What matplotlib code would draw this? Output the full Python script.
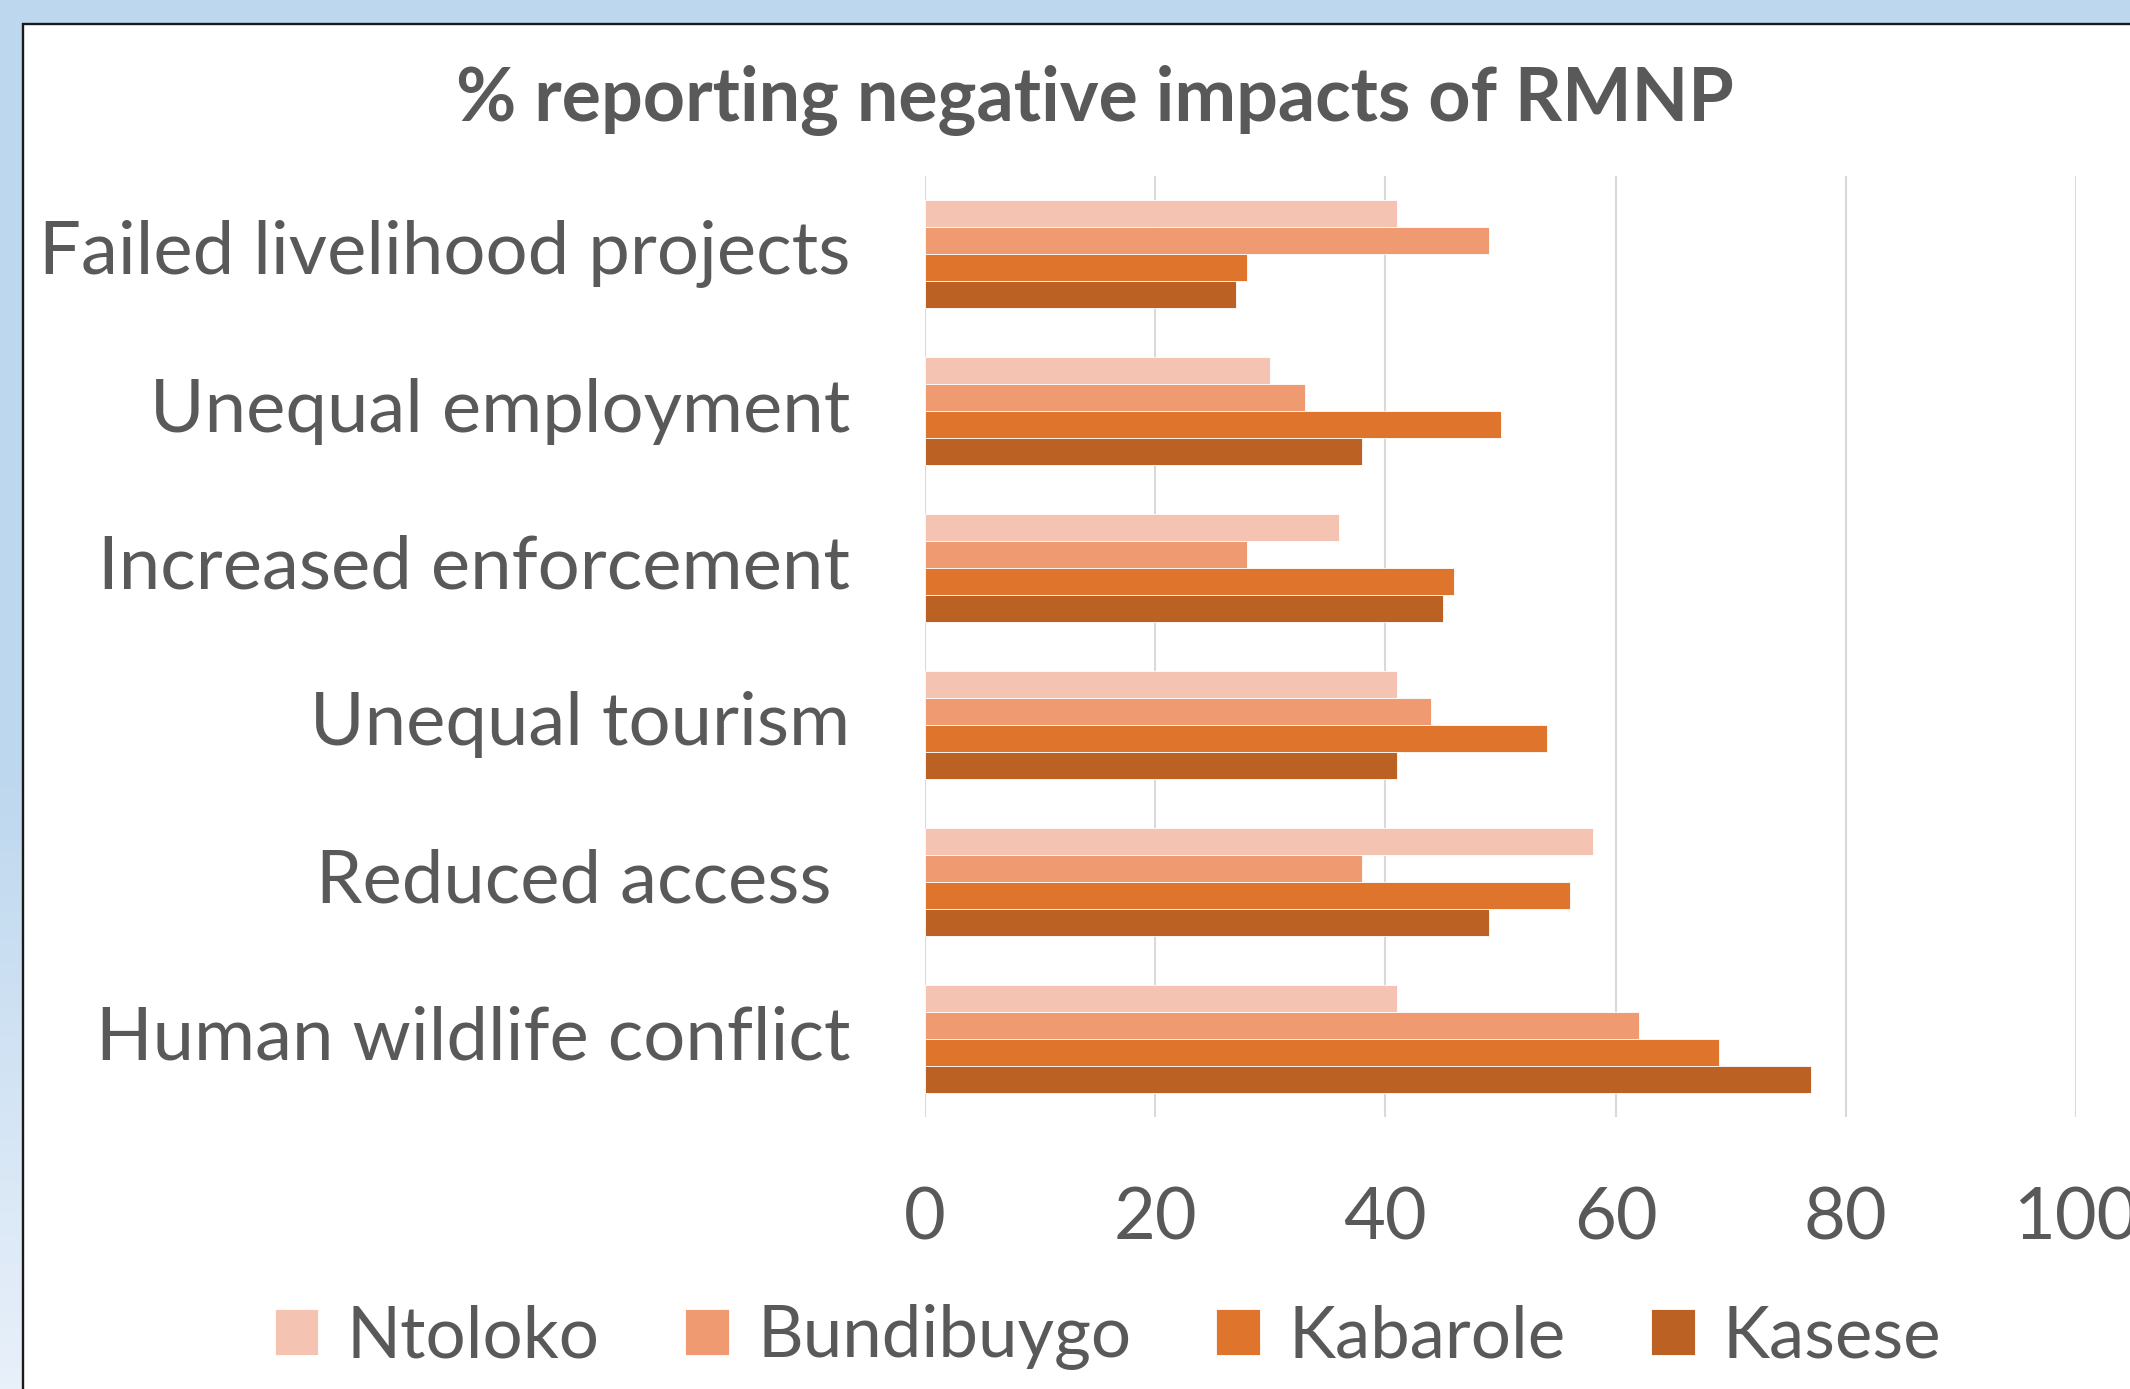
import numpy as np
import matplotlib
matplotlib.use("Agg")
import matplotlib.pyplot as plt
from matplotlib.patches import Rectangle

## data #######################################################################
categories = ["Failed livelihood projects", "Unequal employment",
              "Increased enforcement", "Unequal tourism",
              "Reduced access ", "Human wildlife conflict"]
series_names = ["Ntoloko", "Bundibuygo", "Kabarole", "Kasese"]
ntoloko = [41, 30, 36, 41, 58, 41]
bundibuygo = [49, 33, 28, 44, 38, 62]
kabarole = [28, 50, 46, 54, 56, 69]
kasese = [27, 38, 45, 41, 49, 77]
x_ticks = [0, 20, 40, 60, 80, 100]
title = "% reporting negative impacts of RMNP"

colours = ["#F5C3B2", "#F09A72", "#DF752D", "#BC6124"]
text_col = "#595959"

plt.rcParams['font.family'] = ['Lato', 'DejaVu Sans']

W, H = 2130, 1389
fig = plt.figure(figsize=(W / 100, H / 100), dpi=100)

# blue gradient behind the white chart panel
bg = fig.add_axes([0, 0, 1, 1])
rows = np.linspace(0, 1, 300)
top = np.array([0xBD, 0xD7, 0xEE]) / 255
bot = np.array([0xE8, 0xF0, 0xFA]) / 255
t = np.clip((rows - 0.55) / 0.45, 0, 1)[:, None]
grad = (top * (1 - t) + bot * t)[:, None, :]
bg.imshow(grad, aspect='auto', extent=[0, 1, 0, 1], origin='upper')
bg.set_xlim(0, 1)
bg.set_ylim(0, 1)
bg.axis('off')
bg.add_patch(Rectangle((23 / W, -0.05), 1.0, 1 - 24 / H + 0.05,
                       facecolor='white', edgecolor='#1a1a1a', lw=1.7,
                       clip_on=False))

ax = fig.add_axes([925 / W, 1 - 1117 / H, (2076 - 925) / W, (1117 - 176) / H])
ax.set_facecolor('none')

all_series = [ntoloko, bundibuygo, kabarole, kasese]
y = np.arange(len(categories))
h = 0.172
for i, vals in enumerate(all_series):
	ax.barh(y + (i - 1.5) * h, vals, height=h, color=colours[i],
	        edgecolor='white', linewidth=0.6, label=series_names[i], zorder=3)

ax.set_xlim(0, 100)
ax.set_ylim(len(categories) - 0.5, -0.5)
ax.set_xticks(x_ticks)
ax.set_xticklabels([str(v) for v in x_ticks])
ax.set_yticks(y)
ax.set_yticklabels(categories, va='center')
ax.xaxis.grid(True, color='#D9D9D9', lw=1.5, zorder=0)
ax.set_axisbelow(True)
for s in ax.spines.values():
	s.set_visible(False)
ax.tick_params(axis='x', length=0, pad=50, labelsize=52, labelcolor=text_col)
ax.tick_params(axis='y', length=0, pad=54, labelsize=53.5, labelcolor=text_col)
for lab in ax.get_xticklabels():
	lab.set_clip_on(False)

fig.text(1095 / W, 1 - 100 / H, title, ha='center', va='center',
         fontsize=53, fontweight='bold', color=text_col)

fig.legend(loc='center', bbox_to_anchor=(1108 / W, 1 - 1337 / H), ncol=4,
           frameon=False, fontsize=51, labelcolor=text_col,
           handlelength=0.62, handleheight=0.62, handletextpad=0.4,
           columnspacing=1.2)

fig.savefig("out.png", dpi=100)
